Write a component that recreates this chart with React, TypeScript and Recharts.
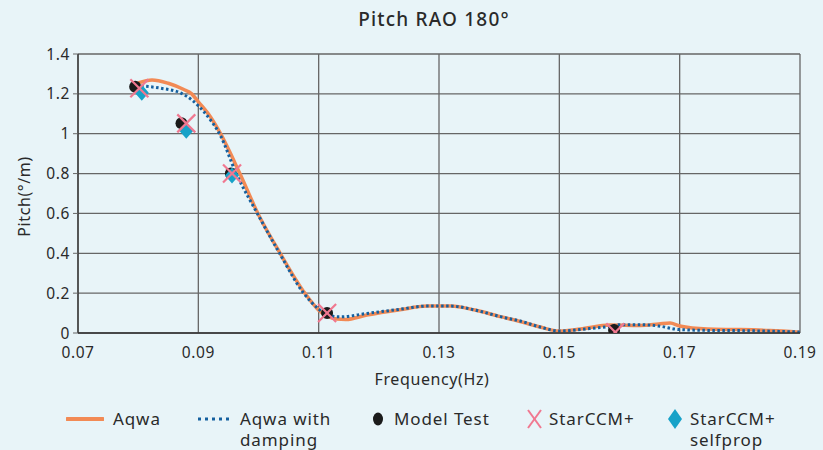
import {
  ComposedChart, Line, Scatter, XAxis, YAxis, CartesianGrid, Label,
} from "recharts";

const freqTicks = [0.07, 0.09, 0.11, 0.13, 0.15, 0.17, 0.19];
const pitchTicks = [0, 0.2, 0.4, 0.6, 0.8, 1, 1.2, 1.4];

const aqwaFreq = [
  0.08, 0.0823, 0.085, 0.0875, 0.0889, 0.09, 0.092, 0.0936, 0.0969, 0.0999,
  0.1036, 0.1077, 0.11, 0.1115, 0.113, 0.1145, 0.118, 0.1235, 0.128, 0.132,
  0.136, 0.1402, 0.1435, 0.1468, 0.15, 0.1535, 0.1584, 0.1634, 0.1665, 0.1684,
  0.17, 0.1746, 0.18, 0.185, 0.19,
];
const aqwaPitch = [
  1.255, 1.27, 1.253, 1.223, 1.2, 1.16, 1.085, 1.005, 0.8, 0.6,
  0.4, 0.2, 0.115, 0.083, 0.07, 0.068, 0.09, 0.117, 0.135, 0.136,
  0.115, 0.082, 0.058, 0.03, 0.01, 0.02, 0.04, 0.038, 0.045, 0.05,
  0.035, 0.02, 0.017, 0.012, 0.004,
];

const dampFreq = [
  0.0805, 0.0838, 0.087, 0.0889, 0.09, 0.092, 0.0936, 0.0963, 0.0998, 0.1035,
  0.1075, 0.11, 0.1115, 0.1136, 0.118, 0.1235, 0.128, 0.132, 0.136, 0.1402,
  0.1435, 0.1468, 0.15, 0.155, 0.1584, 0.1601, 0.1634, 0.1665, 0.17, 0.175,
  0.18, 0.19,
];
const dampPitch = [
  1.24, 1.228, 1.205, 1.17, 1.14, 1.07, 0.995, 0.8, 0.6, 0.4,
  0.2, 0.12, 0.09, 0.081, 0.098, 0.119, 0.135, 0.135, 0.115, 0.082,
  0.06, 0.03, 0.01, 0.022, 0.033, 0.042, 0.042, 0.035, 0.017, 0.013,
  0.012, 0.005,
];

const modelFreq = [0.0795, 0.0872, 0.0954, 0.1114, 0.1591];
const modelPitch = [1.236, 1.052, 0.8, 0.1, 0.015];

const starFreq = [0.0802, 0.088, 0.0956, 0.1114, 0.1593];
const starPitch = [1.228, 1.052, 0.8, 0.1, 0.004];

const selfFreq = [0.0806, 0.088, 0.0956];
const selfPitch = [1.206, 1.015, 0.79];

const zip = (xs: number[], ys: number[]) => xs.map((f, i) => ({ f, v: ys[i] }));

const aqwaData = zip(aqwaFreq, aqwaPitch);
const dampData = zip(dampFreq, dampPitch);
const modelData = zip(modelFreq, modelPitch);
const starData = zip(starFreq, starPitch);
const selfData = zip(selfFreq, selfPitch);

const ORANGE = "#f28a55";
const BLUE = "#15609f";
const PINK = "#f07890";
const CYAN = "#17a2c8";
const BG = "#e8f4f8";
const TEXT = "#2a2a2a";
const FONT = "'Noto Sans', sans-serif";

const Dot = (p: any) => <circle cx={p.cx} cy={p.cy} r={6} fill="#1b1b1b" />;
const Cross = (p: any) => (
  <g stroke={PINK} strokeWidth={2.2}>
    <line x1={p.cx - 9} y1={p.cy - 9} x2={p.cx + 9} y2={p.cy + 9} />
    <line x1={p.cx - 9} y1={p.cy + 9} x2={p.cx + 9} y2={p.cy - 9} />
  </g>
);
const Diamond = (p: any) => (
  <path
    d={`M${p.cx},${p.cy - 8}L${p.cx + 7},${p.cy}L${p.cx},${p.cy + 8}L${p.cx - 7},${p.cy}Z`}
    fill={CYAN}
  />
);

const legendItems = [
  { left: 66, icon: "line", gap: 9, label: ["Aqwa"] },
  { left: 196, icon: "dots", gap: 6, label: ["Aqwa with", "damping"] },
  { left: 372, icon: "circle", gap: 9, label: ["Model Test"] },
  { left: 526, icon: "cross", gap: 5, label: ["StarCCM+"] },
  { left: 667, icon: "diamond", gap: 5, label: ["StarCCM+", "selfprop"] },
];

const LegendIcon = ({ kind }: { kind: string }) => {
  if (kind === "line")
    return (
      <svg width={38} height={10}>
        <line x1={1} y1={5} x2={37} y2={5} stroke={ORANGE} strokeWidth={4} strokeLinecap="round" />
      </svg>
    );
  if (kind === "dots")
    return (
      <svg width={38} height={10}>
        <line x1={2} y1={5} x2={36} y2={5} stroke={BLUE} strokeWidth={3} strokeDasharray="3 4" />
      </svg>
    );
  if (kind === "circle")
    return (
      <svg width={13} height={16}>
        <ellipse cx={6} cy={8} rx={5} ry={6.5} fill="#1b1b1b" />
      </svg>
    );
  if (kind === "cross")
    return (
      <svg width={18} height={22}>
        <g stroke={PINK} strokeWidth={2}>
          <line x1={2} y1={2} x2={15} y2={20} />
          <line x1={15} y1={2} x2={2} y2={20} />
        </g>
      </svg>
    );
  return (
    <svg width={18} height={22}>
      <path d="M8,1L15,11L8,21L1,11Z" fill={CYAN} />
    </svg>
  );
};

const ChartLegend = () => (
  <div style={{ position: "absolute", left: 0, top: 408, width: 823, height: 42 }}>
    {legendItems.map((it) => (
      <div
        key={it.left}
        style={{ position: "absolute", left: it.left, top: 0, display: "flex", alignItems: "flex-start" }}
      >
        <div style={{ height: 22, display: "flex", alignItems: "center", marginRight: it.gap }}>
          <LegendIcon kind={it.icon} />
        </div>
        <div style={{ fontSize: 17, lineHeight: "21px", color: TEXT, letterSpacing: 0.9, whiteSpace: "nowrap" }}>
          {it.label.map((l) => (
            <div key={l}>{l}</div>
          ))}
        </div>
      </div>
    ))}
  </div>
);

const App = () => {
  return (
    <div
      style={{
        position: "absolute", left: 0, top: 0, width: 823, height: 450,
        background: BG, fontFamily: FONT, overflow: "hidden",
      }}
    >
      <div
        style={{
          position: "absolute", top: 6, left: 0, width: 868, textAlign: "center",
          fontSize: 19, fontWeight: 500, color: TEXT, letterSpacing: 1.2,
        }}
      >
        Pitch RAO 180°
      </div>
      <ComposedChart
        width={823}
        height={450}
        margin={{ top: 54, right: 23, bottom: 62, left: 0 }}
        style={{ fontFamily: FONT }}
      >
        <CartesianGrid stroke="#666" strokeWidth={1.3} />
        <XAxis
          dataKey="f"
          type="number"
          domain={[0.07, 0.19]}
          ticks={freqTicks}
          tickFormatter={(v: number) => v.toFixed(2)}
          tick={{ fontSize: 15.5, fill: TEXT, letterSpacing: 0.6 }}
          tickLine={false}
          axisLine={{ stroke: "#333", strokeWidth: 1.3 }}
          tickMargin={8}
          height={55}
          allowDataOverflow
        >
          <Label value="Frequency(Hz)" position="insideBottom" offset={3} dx={-7} style={{ fontSize: 16, fill: TEXT, letterSpacing: 0.6 }} />
        </XAxis>
        <YAxis
          type="number"
          domain={[0, 1.4]}
          ticks={pitchTicks}
          tickFormatter={(v: number) => String(Number(v.toFixed(1)))}
          tick={{ fontSize: 15.5, fill: TEXT, letterSpacing: 0.6 }}
          tickLine={{ stroke: "#666" }}
          tickSize={5}
          tickMargin={3}
          axisLine={{ stroke: "#333", strokeWidth: 1.3 }}
          width={78}
          allowDataOverflow
        >
          <Label value="Pitch(°/m)" angle={-90} position="insideLeft" offset={24} dy={3} style={{ fontSize: 16, fill: TEXT, textAnchor: "middle", letterSpacing: 0.6 }} />
        </YAxis>
        <Line
          data={aqwaData}
          dataKey="v"
          name="Aqwa"
          type="monotone"
          stroke={ORANGE}
          strokeWidth={3.5}
          dot={false}
          activeDot={false}
          isAnimationActive={false}
        />
        <Line
          data={dampData}
          dataKey="v"
          name="Aqwa with damping"
          type="monotone"
          stroke={BLUE}
          strokeWidth={3}
          strokeDasharray="2.5 2.5"
          dot={false}
          activeDot={false}
          isAnimationActive={false}
        />
        <Scatter data={modelData} dataKey="v" name="Model Test" shape={Dot} isAnimationActive={false} />
        <Scatter data={selfData} dataKey="v" name="StarCCM+ selfprop" shape={Diamond} isAnimationActive={false} />
        <Scatter data={starData} dataKey="v" name="StarCCM+" shape={Cross} isAnimationActive={false} />
      </ComposedChart>
      <ChartLegend />
    </div>
  );
};

export default App;
